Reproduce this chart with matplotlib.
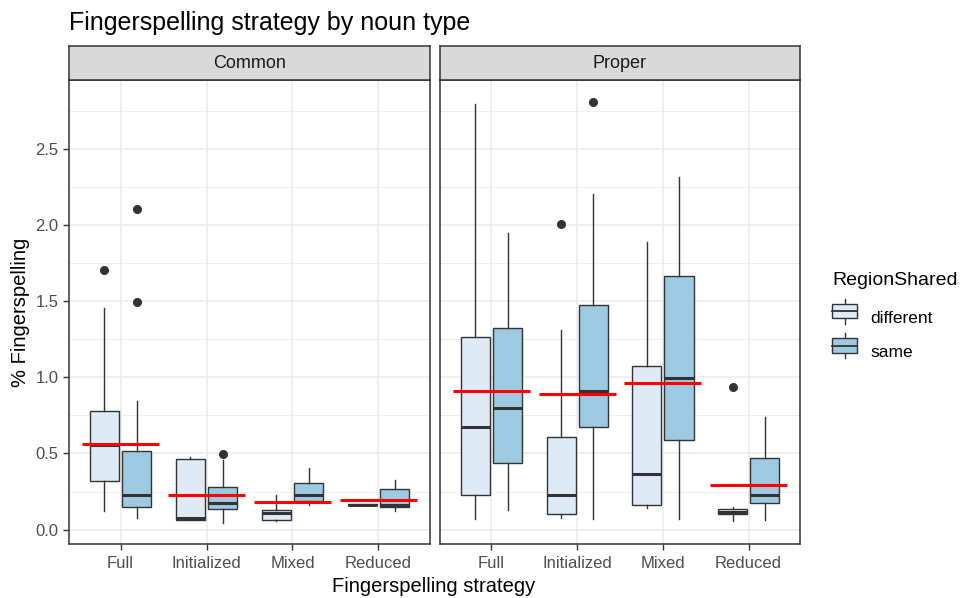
import numpy as np
import matplotlib
matplotlib.use("Agg")
import matplotlib.pyplot as plt
from matplotlib.patches import Rectangle
from matplotlib.lines import Line2D
from matplotlib.legend_handler import HandlerBase

plt.rcParams['font.family'] = ['Liberation Sans', 'DejaVu Sans']

strategies = ["Full", "Initialized", "Mixed", "Reduced"]
panels = ["Common", "Proper"]
groups = ["different", "same"]
fills = {"different": "#DEEBF7", "same": "#9ECAE1"}

# box stats: [whislo, q1, med, q3, whishi]
common_different = [[0.12, 0.317, 0.553, 0.776, 1.459],
                    [0.066, 0.066, 0.077, 0.464, 0.475],
                    [0.055, 0.066, 0.109, 0.131, 0.225],
                    [0.16, 0.16, 0.164, 0.168, 0.17]]
common_same = [[0.077, 0.149, 0.225, 0.518, 0.842],
               [0.044, 0.138, 0.175, 0.28, 0.459],
               [0.164, 0.186, 0.23, 0.306, 0.405],
               [0.125, 0.149, 0.164, 0.269, 0.328]]
proper_different = [[0.07, 0.23, 0.671, 1.264, 2.795],
                    [0.077, 0.103, 0.228, 0.608, 1.312],
                    [0.142, 0.16, 0.365, 1.078, 1.892],
                    [0.055, 0.103, 0.116, 0.138, 0.15]]
proper_same = [[0.127, 0.437, 0.798, 1.328, 1.947],
               [0.072, 0.674, 0.908, 1.474, 2.205],
               [0.072, 0.59, 0.995, 1.669, 2.318],
               [0.066, 0.175, 0.228, 0.47, 0.739]]

# outliers
common_different_out = [[1.706], [], [], []]
common_same_out = [[2.104, 1.494], [0.499], [], []]
proper_different_out = [[], [2.01], [], [0.934]]
proper_same_out = [[], [2.813], [], []]

# red lines (means per strategy)
common_mean = [0.56, 0.228, 0.179, 0.192]
proper_mean = [0.908, 0.890, 0.965, 0.291]

data = {
    "Common": {"different": (common_different, common_different_out),
               "same": (common_same, common_same_out),
               "mean": common_mean},
    "Proper": {"different": (proper_different, proper_different_out),
               "same": (proper_same, proper_same_out),
               "mean": proper_mean},
}

W, H = 964, 598
fig = plt.figure(figsize=(W / 100, H / 100), dpi=100)


def rect(x0, y0, x1, y1):
    return [x0 / W, 1 - y1 / H, (x1 - x0) / W, (y1 - y0) / H]


class BoxKey(HandlerBase):
    def create_artists(self, legend, orig, xd, yd, width, height, fontsize, trans):
        cx = xd + width / 2
        bh = height * 0.8
        by = yd + (height - bh) / 2
        r = Rectangle((xd, by), width, bh, facecolor=orig.get_facecolor(),
                      edgecolor=edge, linewidth=1, transform=trans)
        wl = Line2D([cx, cx], [yd - height * 0.2, yd + height * 1.2], color=edge,
                    linewidth=1, transform=trans)
        ml = Line2D([xd, xd + width], [yd + height / 2] * 2, color=edge,
                    linewidth=1.3, transform=trans)
        return [wl, r, ml]


panel_x = [(69, 430), (440, 800)]
edge = "#333333"

for i, panel in enumerate(panels):
    x0, x1 = panel_x[i]
    ax = fig.add_axes(rect(x0, 80, x1, 544))

    for j, g in enumerate(groups):
        stats_list, outs = data[panel][g]
        offs = -0.1875 if j == 0 else 0.1875
        bstats = []
        for k, st in enumerate(stats_list):
            bstats.append({"whislo": st[0], "q1": st[1], "med": st[2],
                           "q3": st[3], "whishi": st[4], "fliers": outs[k]})
        pos = [k + 1 + offs for k in range(4)]
        ax.bxp(bstats, positions=pos, widths=0.34, patch_artist=True,
               showcaps=False, manage_ticks=False,
               boxprops=dict(facecolor=fills[g], edgecolor=edge, linewidth=1),
               whiskerprops=dict(color=edge, linewidth=1),
               medianprops=dict(color=edge, linewidth=2.2),
               flierprops=dict(marker="o", markerfacecolor="#333333",
                               markeredgecolor="#333333", markersize=5.5))

    means = data[panel]["mean"]
    ax.hlines(means, [k + 1 - 0.45 for k in range(4)], [k + 1 + 0.45 for k in range(4)],
              colors="red", linewidth=2.2, zorder=4)

    ax.set_xlim(0.4, 4.6)
    ax.set_ylim(-0.095, 2.955)
    ax.set_yticks(np.arange(0, 2.6, 0.5))
    ax.set_yticks(np.arange(0.25, 2.9, 0.5), minor=True)
    ax.set_xticks(range(1, 5))
    ax.set_xticklabels(strategies)
    ax.grid(True, which="major", color="#EBEBEB", linewidth=1.1)
    ax.grid(True, which="minor", axis="y", color="#EBEBEB", linewidth=0.6)
    ax.set_axisbelow(True)
    for s in ax.spines.values():
        s.set_color(edge)
        s.set_linewidth(1.1)
        s.set_zorder(5)
    ax.tick_params(axis="both", which="major", colors=edge, labelcolor="#4D4D4D",
                   labelsize=12, length=4, width=1)
    ax.tick_params(axis="y", which="minor", length=0)
    ax.tick_params(axis="x", pad=5)
    if i == 0:
        ax.yaxis.set_major_formatter(plt.FuncFormatter(lambda v, p: f"{v:.1f}"))
        ax.set_ylabel("% Fingerspelling", fontsize=14.5, color="black", labelpad=4)
    else:
        ax.tick_params(axis="y", labelleft=False, length=0)

    # strip
    sax = fig.add_axes(rect(x0, 46, x1, 80))
    sax.set_xticks([])
    sax.set_yticks([])
    sax.set_facecolor("#D9D9D9")
    for s in sax.spines.values():
        s.set_color(edge)
        s.set_linewidth(1.1)
    sax.text(0.5, 0.48, panel, ha="center", va="center", fontsize=13,
             color="#1A1A1A", transform=sax.transAxes)

fig.text(69 / W, 1 - 23 / H, "Fingerspelling strategy by noun type", fontsize=18,
         ha="left", va="center", color="black")
fig.text(434 / W, 1 - 587 / H, "Fingerspelling strategy", fontsize=14.5,
         ha="center", va="center", color="black")

# legend
handles = [Rectangle((0, 0), 1, 1, facecolor=fills[g]) for g in groups]
leg = fig.legend(handles, groups, loc="upper left", bbox_to_anchor=(832 / W, 1 - 272 / H),
                 title="RegionShared", frameon=False, fontsize=12.5, title_fontsize=14,
                 borderpad=0, borderaxespad=0,
                 handlelength=1.45, handleheight=1.2, labelspacing=0.95, handletextpad=0.75,
                 handler_map={Rectangle: BoxKey()})
leg._legend_box.align = "left"
leg._legend_box.sep = 14

fig.savefig("out.png", dpi=100)
